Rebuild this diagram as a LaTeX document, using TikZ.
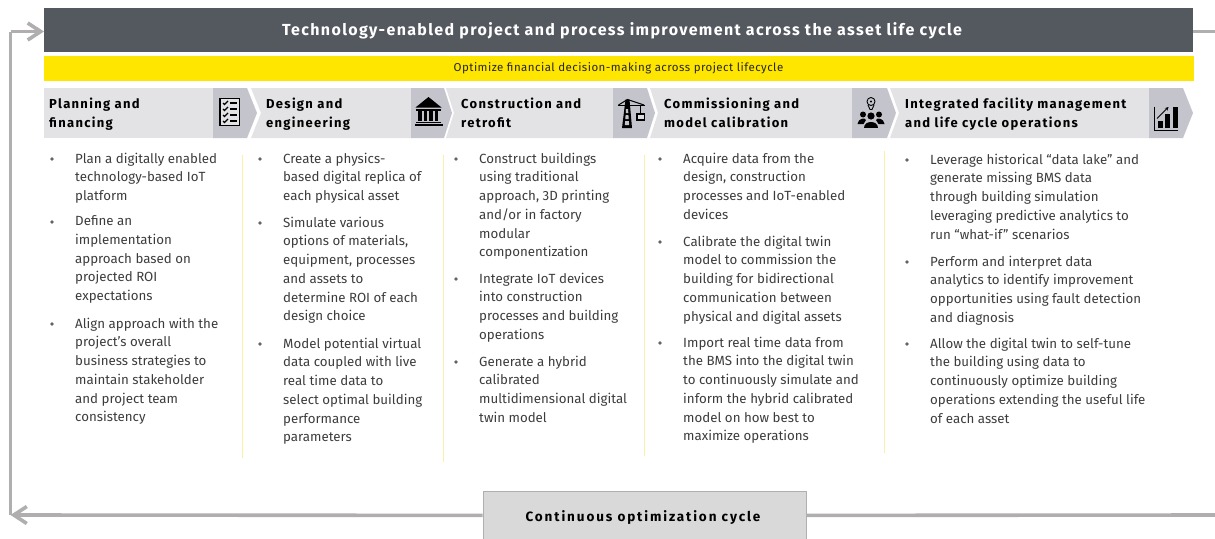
\documentclass[tikz,border=0pt]{standalone}
\usepackage{fontspec}
\setmainfont{Fira Sans}
\newfontfamily\titlefont[LetterSpace=8.5]{Fira Sans}
\newfontfamily\hdfont[LetterSpace=10]{Fira Sans}
\newfontfamily\cyclefont[LetterSpace=14]{Fira Sans}
\newfontfamily\yellowfont[LetterSpace=4]{Fira Sans}
\usetikzlibrary{arrows.meta}
\definecolor{barDark}{HTML}{54585F}
\definecolor{eyYellow}{HTML}{FFE600}
\definecolor{chevLight}{HTML}{E3E3E5}
\definecolor{chevDark}{HTML}{C4C4CD}
\definecolor{loopGray}{HTML}{B0AEAE}
\definecolor{boxGray}{HTML}{D9D9D9}
\definecolor{bodyText}{HTML}{3C3C3C}
\definecolor{sepYellow}{HTML}{FBF0A8}
\tikzset{
  para/.style={anchor=north west,inner sep=0pt,align=left,text=bodyText,font=\fontsize{13.3}{18.75}\selectfont},
  bulletdot/.style={circle,fill=bodyText!80,inner sep=0pt,minimum size=3.6pt},
  heading/.style={anchor=north west,inner sep=0pt,align=left,text=black,font=\hdfont\bfseries\fontsize{13}{19}\selectfont},
  looparrow/.style={draw=loopGray,line width=3.6pt},
  loopthin/.style={draw=loopGray,line width=3pt},
  sepline/.style={draw=sepYellow,line width=1pt},
  icon/.style={draw=black,line width=1.3pt},
  barb/.style={-{Straight Barb[length=13pt,width=17pt,line width=3.6pt]}},
}
\newcommand{\chev}[5]{% x start, notch, dark start, dark end, tip
  \fill[chevLight] (#1,88) -- (#3,88) -- (#3,138) -- (#1,138) -- (#2,113) -- cycle;
  \fill[chevDark] (#3,88) -- (#4,88) -- (#5,113) -- (#4,138) -- (#3,138) -- cycle;
}
\newcommand{\bulletpara}[4]{% name, x, baseline, text
  \node[bulletdot] (#1b) at ({#2-23},{#3-3.5}) {};
  \node[para] (#1) at (#2,{#3-10}) {\rule{0pt}{10pt}#4};
}
\begin{document}
\begin{tikzpicture}[x=1pt,y=-1pt]
\useasboundingbox (0,0) rectangle (1215,538);
% bars
\node[fill=barDark,draw=none,inner sep=0pt,minimum width=1149pt,minimum height=44pt,anchor=north west] (topbar) at (44,8) {};
\node[anchor=center,inner sep=0pt,text=white,font=\titlefont\bfseries\fontsize{16}{18}\selectfont] (toptext) at (622,30.5) {Technology-enabled project and process improvement across the asset life cycle};
\node[fill=eyYellow,inner sep=0pt,minimum width=1150pt,minimum height=24.5pt,anchor=north west] (yellowbar) at (44,56) {};
\node[inner sep=0pt,text=black!85,font=\yellowfont\fontsize{11.5}{12}\selectfont] (yellowtext) at (618.5,68.5) {Optimize financial decision-making across project lifecycle};
% chevrons
\fill[chevLight] (44,88) -- (213,88) -- (213,138) -- (44,138) -- cycle;
\fill[chevDark] (213,88) -- (247,88) -- (257,113) -- (247,138) -- (213,138) -- cycle;
\chev{251}{261}{411}{444}{452}
\chev{446}{454}{613}{647}{655}
\chev{650}{658}{852}{887}{896}
\chev{890}{899}{1149}{1183}{1193}
% headings
\node[heading] (h1) at (49,97.5) {Planning and\\financing};
\node[heading] (h2) at (266,97.5) {Design and\\engineering};
\node[heading] (h3) at (461,97.5) {Construction and\\retrofit};
\node[heading] (h4) at (664,97.5) {Commissioning and\\model calibration};
\node[heading] (h5) at (905,97.5) {Integrated facility management\\and life cycle operations};
% icon: checklist
\draw[icon,line width=1.8pt,fill=chevLight] (220,98.5) rectangle (239.5,125.5);
\foreach \yy in {103,109,115,121}{
  \draw[line width=1.4pt] (223,\yy) -- (224.5,{\yy+1.5}) -- (228,{\yy-2});
  \draw[line width=1.6pt] (230,\yy) -- (236.5,\yy);
}
% icon: bank
\fill (415.5,107.5) -- (428.5,97) -- (441.5,107.5) -- cycle;
\fill (416,108.5) rectangle (441,110.5);
\foreach \xx in {418,423.5,429,434.5}{ \fill (\xx,111) rectangle ({\xx+3.5},121); }
\fill (416,121.5) rectangle (441,123);
\fill (414.5,123.5) rectangle (442.5,125.5);
% icon: crane
\fill (622,128) -- (632,128) -- (629.5,99.5) -- (625.5,99.5) -- cycle;
\fill[chevDark] (624.8,125) -- (629.2,125) -- (628.8,121) -- (625.2,121) -- cycle;
\fill[chevDark] (625.3,119) -- (628.7,119) -- (628.4,115) -- (625.6,115) -- cycle;
\fill[chevDark] (625.8,113) -- (628.3,113) -- (628.1,109) -- (626,109) -- cycle;
\draw[line width=1.6pt] (618,105.5) -- (645,105.5);
\draw[line width=1pt] (618.5,105) -- (627.5,99.5) -- (644,105);
\draw[line width=1pt] (640.5,105.5) -- (640.5,114);
\draw[line width=1.2pt,fill=chevDark!60] (637,114) rectangle (644.5,120);
% icon: bulb and people
\draw[line width=0.9pt] (871,101.5) circle (4pt);
\fill (871,101.5) circle (1.2pt);
\draw[line width=0.9pt] (868,105) -- (870,109.5) -- (872,109.5) -- (874,105);
\fill (863,114.5) circle (3pt);
\fill (879,114.5) circle (3pt);
\fill (871,116) circle (3.6pt);
\fill (857.5,124) .. controls (858,118.5) and (865,117) .. (866,120) -- (863.5,124) -- cycle;
\fill (884.5,124) .. controls (884,118.5) and (877,117) .. (876,120) -- (878.5,124) -- cycle;
\fill (864,127.5) .. controls (864,119.5) and (878,119.5) .. (878,127.5) -- cycle;
% icon: chart
\draw[line width=1.4pt] (1154.5,106.5) -- (1154.5,130.5) -- (1177.5,130.5);
\fill (1158,121) rectangle (1162.5,128);
\fill (1165,113.5) rectangle (1170,128);
\fill (1172.5,106.5) rectangle (1177.5,128);
\draw[line width=1pt,-{Stealth[length=3.5pt,width=3.5pt]}] (1157,118.5) -- (1168.5,107);
% separators
\coordinate (s1a) at (242,155); \coordinate (s1b) at (242,458);
\coordinate (s2a) at (443,155); \coordinate (s2b) at (443,462);
\coordinate (s3a) at (644,155); \coordinate (s3b) at (644,456);
\coordinate (s4a) at (884,151); \coordinate (s4b) at (884,453);
\draw[sepline] (s1a) -- (s1b);
\draw[sepline] (s2a) -- (s2b);
\draw[sepline] (s3a) -- (s3b);
\draw[sepline] (s4a) -- (s4b);
% column 1
\bulletpara{aa}{75}{162.5}{Plan a digitally enabled\\technology-based IoT\\platform}
\bulletpara{ab}{75}{225.5}{Define an\\implementation\\approach based on\\projected ROI\\expectations}
\bulletpara{ac}{75}{327.5}{Align approach with the\\project’s overall\\business strategies to\\maintain stakeholder\\and project team\\consistency}
% column 2
\bulletpara{ba}{283}{162.5}{Create a physics-\\based digital replica of\\each physical asset}
\bulletpara{bb}{283}{226.5}{Simulate various\\options of materials,\\equipment, processes\\and assets to\\determine ROI of each\\design choice}
\bulletpara{bc}{283}{347.5}{Model potential virtual\\data coupled with live\\real time data to\\select optimal building\\performance\\parameters}
% column 3
\bulletpara{ca}{479}{162.5}{Construct buildings\\using traditional\\approach, 3D printing\\and/or in factory\\modular\\componentization}
\bulletpara{cb}{479}{282.5}{Integrate IoT devices\\into construction\\processes and building\\operations}
\bulletpara{cc}{479}{365.5}{Generate a hybrid\\calibrated\\multidimensional digital\\twin model}
% column 4
\bulletpara{da}{683}{162.5}{Acquire data from the\\design, construction\\processes and IoT-enabled\\devices}
\bulletpara{db}{683}{245.5}{Calibrate the digital twin\\model to commission the\\building for bidirectional\\communication between\\physical and digital assets}
\bulletpara{dc}{683}{346.5}{Import real time data from\\the BMS into the digital twin\\to continuously simulate and\\inform the hybrid calibrated\\model on how best to\\maximize operations}
% column 5
\bulletpara{ea}{930}{163.5}{Leverage historical “data lake” and\\generate missing BMS data\\through building simulation\\leveraging predictive analytics to\\run “what-if” scenarios}
\bulletpara{eb}{930}{265.5}{Perform and interpret data\\analytics to identify improvement\\opportunities using fault detection\\and diagnosis}
\bulletpara{ec}{930}{347.5}{Allow the digital twin to self-tune\\the building using data to\\continuously optimize building\\operations extending the useful life\\of each asset}
% bottom box
\node[fill=boxGray,draw=loopGray,line width=0.8pt,inner sep=0pt,minimum width=323pt,minimum height=48pt,anchor=north west] (cyclebox) at (482.5,491) {};
\node[inner sep=0pt,text=black,font=\cyclefont\bfseries\fontsize{13.5}{15}\selectfont] (cycletext) at (643,518) {Continuous optimization cycle};
% loop connectors
\coordinate (cornerB) at (10.5,515);
\coordinate (cornerT) at (10.5,31.5);
\coordinate (rightTop) at (1215,31.5);
\coordinate (rightBot) at (1215,515);
\draw[looparrow,barb] (cyclebox.west) -- (cornerB);
\draw[loopthin] (cornerB) -- (cornerT);
\draw[looparrow,barb] (cornerT) -- (topbar.west |- cornerT);
\draw[looparrow] (cyclebox.east) -- (rightBot);
\draw[looparrow] (topbar.east |- rightTop) -- (rightTop);
\end{tikzpicture}
\end{document}
